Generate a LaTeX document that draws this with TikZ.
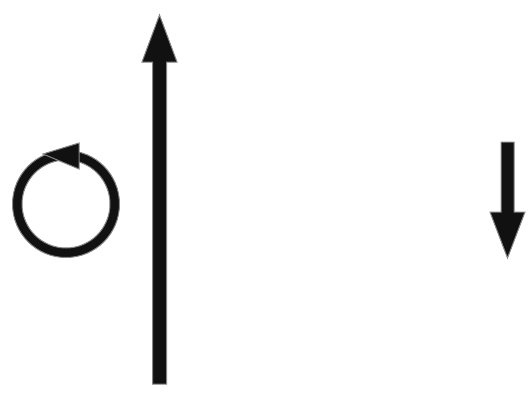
\documentclass[tikz,border=0pt]{standalone}
\usepackage{tikz}
\definecolor{arrowfill}{HTML}{111111}
\definecolor{arrowline}{HTML}{858585}
\tikzset{
  bigarrow/.style={fill=arrowfill, draw=arrowline, line width=1pt, line join=miter},
}

\begin{document}
\begin{tikzpicture}[x=1pt, y=-1pt]
\useasboundingbox (0,0) rectangle (530,400);

% --- Rotation: ring with arrowhead ---
\fill[bigarrow, even odd rule] (66,204) circle (53.5) (66,204) circle (44);
\fill[bigarrow] (43,154) -- (79,143) -- (79,169) -- cycle;

% --- Long arrow up ---
\fill[bigarrow] (152.5,384) -- (152.5,62) -- (142,62) -- (159.5,15)
  -- (177,62) -- (166.5,62) -- (166.5,384) -- cycle;

% --- Short arrow down ---
\fill[bigarrow] (501,142) -- (514,142) -- (514,212) -- (525,212)
  -- (507.5,258) -- (490,212) -- (501,212) -- cycle;
\end{tikzpicture}
\end{document}
